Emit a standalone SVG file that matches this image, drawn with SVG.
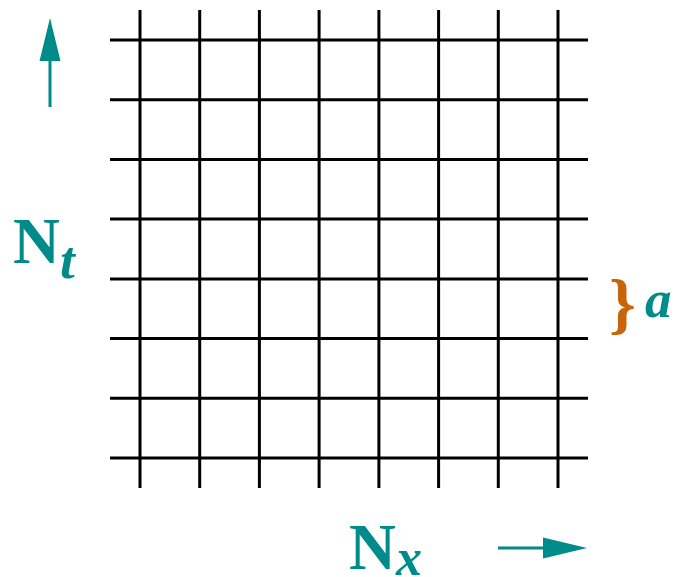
<svg xmlns="http://www.w3.org/2000/svg" width="677" height="577" viewBox="0 0 677 577">
<style>
.g{stroke:#000;stroke-width:3;fill:none}
.teal{fill:#008B8B}
.lbl{font-family:"Liberation Serif",serif;font-weight:bold;fill:#008B8B}
.it{font-style:italic}
.ar{stroke:#008B8B;stroke-width:3}
</style>
<rect width="677" height="577" fill="#fff"/>
<g id="grid" class="g">
<path d="M140 10V488M199.7 10V488M259.4 10V488M319.1 10V488M378.9 10V488M438.6 10V488M498.3 10V488M558 10V488"/>
<path d="M110 40H588M110 99.7H588M110 159.4H588M110 219.1H588M110 278.9H588M110 338.6H588M110 398.3H588M110 458H588"/>
</g>
<g id="connectors">
<line class="ar" x1="50" y1="107" x2="50" y2="58"/>
<polygon class="teal" points="50,18 60.5,61 39.5,61"/>
<line class="ar" x1="498" y1="548" x2="546" y2="548"/>
<polygon class="teal" points="587,548 543,537.5 543,558.5"/>
</g>
<g id="Nt">
<text class="lbl" x="13" y="263" font-size="65">N</text>
<text class="lbl it" x="60" y="278" font-size="53">t</text>
</g>
<g id="Nx">
<text class="lbl" x="349" y="569" font-size="65">N</text>
<text class="lbl it" x="396" y="575" font-size="52">x</text>
</g>
<g id="a">
<text x="609" y="326" font-size="68" font-weight="bold" font-family="Liberation Serif,serif" fill="#C8640A">}</text>
<text class="lbl it" x="645" y="317" font-size="53">a</text>
</g>
</svg>
